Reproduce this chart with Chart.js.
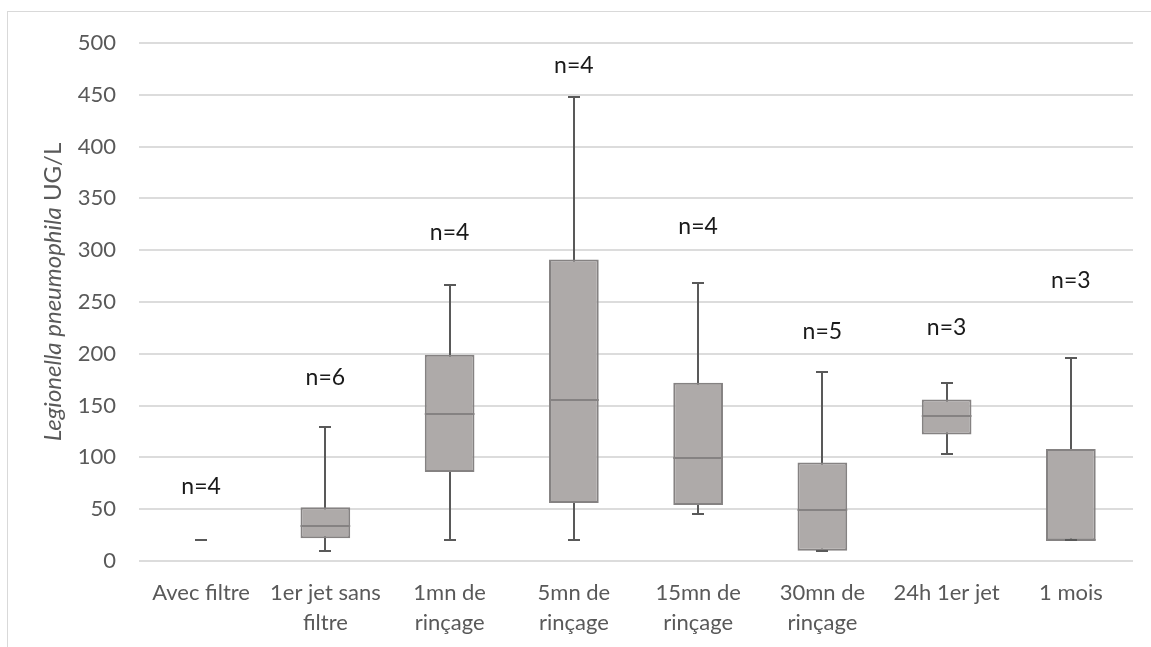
<!DOCTYPE html>
<html>
<head>
<meta charset="utf-8">
<script src="https://cdn.jsdelivr.net/npm/chart.js@4.4.1/dist/chart.umd.min.js"></script>
<style>
html, body { margin: 0; padding: 0; background: #fff; overflow: hidden; }
#wrap { position: relative; width: 1151px; height: 647px; overflow: hidden; }
#frame { position: absolute; left: 7px; top: 11px; width: 1200px; height: 700px; border: 1px solid #d9d9d9; box-sizing: border-box; }
canvas { position: absolute; left: 0; top: 0; }
</style>
</head>
<body>
<div id="wrap">
    <div id="frame"></div>
    <canvas id="boxChart" width="1151" height="647"></canvas>
</div>
<script>
const categories = [
    ['Avec filtre'],
    ['1er jet sans', 'filtre'],
    ['1mn de', 'rinçage'],
    ['5mn de', 'rinçage'],
    ['15mn de', 'rinçage'],
    ['30mn de', 'rinçage'],
    ['24h 1er jet'],
    ['1 mois']
];
const minValues = [20, 10, 20, 20, 45, 10, 103, 20];
const q1Values = [20, 22, 86, 56, 54, 10, 122, 20];
const medianValues = [20, 34, 142, 155, 99, 49, 140, 20];
const q3Values = [20, 52, 199, 291, 172, 95, 156, 108];
const maxValues = [20, 129, 266, 448, 268, 182, 172, 196];
const sampleCounts = [4, 6, 4, 4, 4, 5, 3, 3];
const countLabelAt = [72, 177, 317, 478, 323, 221, 225, 271];
const yTicks = [0, 50, 100, 150, 200, 250, 300, 350, 400, 450, 500];

const FONT = 'Lato';
const GREY_TEXT = '#595959';
const BOX_FILL = '#aeaaa9';
const BOX_EDGE = '#858282';
const WHISKER = '#595959';

// Q1..Q3 box, skipped when it has no height
const boxes = q1Values.map((q1, i) => q3Values[i] > q1 ? [q1, q3Values[i]] : null);

const whiskerPlugin = {
    id: 'whiskers',
    beforeDatasetsDraw(chart) {
        const ctx = chart.ctx;
        const x = chart.scales.x;
        const y = chart.scales.y;
        ctx.save();
        ctx.strokeStyle = WHISKER;
        ctx.lineWidth = 2;
        categories.forEach((c, i) => {
            const px = Math.round(x.getPixelForValue(i));
            ctx.beginPath();
            ctx.moveTo(px, y.getPixelForValue(minValues[i]));
            ctx.lineTo(px, y.getPixelForValue(maxValues[i]));
            ctx.stroke();
        });
        ctx.restore();
    },
    afterDatasetsDraw(chart) {
        const ctx = chart.ctx;
        const x = chart.scales.x;
        const y = chart.scales.y;
        const bars = chart.getDatasetMeta(0).data;
        ctx.save();
        // median lines
        ctx.strokeStyle = BOX_EDGE;
        ctx.lineWidth = 2;
        bars.forEach((bar, i) => {
            if (!boxes[i]) return;
            const py = Math.round(y.getPixelForValue(medianValues[i]));
            ctx.beginPath();
            ctx.moveTo(bar.x - bar.width / 2, py);
            ctx.lineTo(bar.x + bar.width / 2, py);
            ctx.stroke();
        });
        // whisker caps
        ctx.strokeStyle = WHISKER;
        categories.forEach((c, i) => {
            const px = Math.round(x.getPixelForValue(i));
            [minValues[i], maxValues[i]].forEach(v => {
                const py = Math.round(y.getPixelForValue(v));
                ctx.beginPath();
                ctx.moveTo(px - 6, py);
                ctx.lineTo(px + 6, py);
                ctx.stroke();
            });
        });
        // sample counts
        ctx.fillStyle = '#1a1a1a';
        ctx.font = '23px ' + FONT;
        ctx.textAlign = 'center';
        ctx.textBaseline = 'middle';
        sampleCounts.forEach((n, i) => {
            ctx.fillText('n=' + n, x.getPixelForValue(i), y.getPixelForValue(countLabelAt[i]));
        });
        ctx.restore();
    },
    afterDraw(chart) {
        // y title: italic species name + plain unit
        const ctx = chart.ctx;
        const area = chart.chartArea;
        const italicPart = 'Legionella pneumophila';
        const plainPart = ' UG/L';
        ctx.save();
        ctx.fillStyle = GREY_TEXT;
        ctx.textBaseline = 'middle';
        ctx.translate(53, (area.top + area.bottom) / 2 - 10);
        ctx.rotate(-Math.PI / 2);
        ctx.font = 'italic 24px ' + FONT;
        const w1 = ctx.measureText(italicPart).width;
        ctx.font = '24px ' + FONT;
        const w2 = ctx.measureText(plainPart).width;
        const start = -(w1 + w2) / 2;
        ctx.textAlign = 'left';
        ctx.font = 'italic 24px ' + FONT;
        ctx.fillText(italicPart, start, 0);
        ctx.font = '24px ' + FONT;
        ctx.fillText(plainPart, start + w1, 0);
        ctx.restore();
    }
};

const ctx = document.getElementById('boxChart').getContext('2d');
const boxChart = new Chart(ctx, {
    type: 'bar',
    data: {
        labels: categories,
        datasets: [{
            label: 'Q1 - Q3',
            data: boxes,
            backgroundColor: BOX_FILL,
            borderColor: BOX_EDGE,
            borderWidth: 2,
            borderSkipped: false,
            barPercentage: 0.4,
            categoryPercentage: 1
        }]
    },
    options: {
        responsive: false,
        devicePixelRatio: 1,
        animation: false,
        layout: { padding: { left: 0, right: 18, top: 43, bottom: 0 } },
        plugins: {
            legend: { display: false },
            tooltip: { enabled: false }
        },
        scales: {
            x: {
                grid: { display: false, drawTicks: false },
                border: { display: false },
                ticks: {
                    color: GREY_TEXT,
                    font: { family: FONT, size: 22, lineHeight: 30 / 22 },
                    padding: 17,
                    maxRotation: 0,
                    autoSkip: false
                },
                afterFit(scale) { scale.height = 86; }
            },
            y: {
                min: 0,
                max: 500,
                grid: { color: '#dcdcdc', lineWidth: 2, drawTicks: false },
                border: { display: false },
                ticks: {
                    color: GREY_TEXT,
                    font: { family: FONT, size: 22 },
                    padding: 23
                },
                afterBuildTicks(scale) { scale.ticks = yTicks.map(v => ({ value: v })); },
                afterFit(scale) { scale.width = 139; }
            }
        }
    },
    plugins: [whiskerPlugin]
});
</script>
</body>
</html>
